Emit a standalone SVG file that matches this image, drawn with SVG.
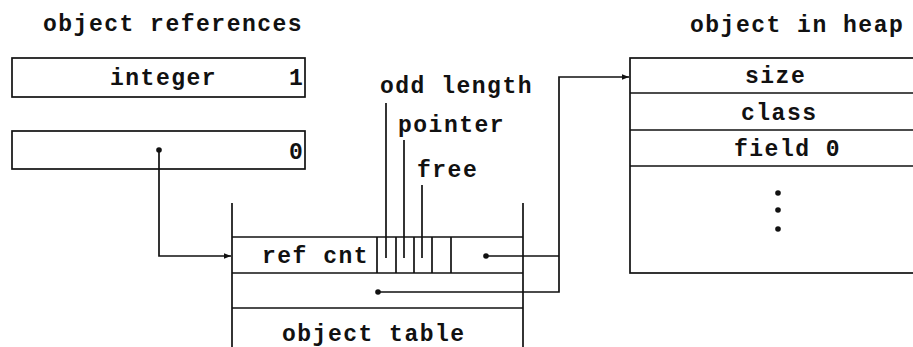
<svg xmlns="http://www.w3.org/2000/svg" width="913" height="347" viewBox="0 0 913 347">
<style>
text{font-family:"Liberation Mono","DejaVu Sans Mono",monospace;font-size:23px;font-weight:bold;letter-spacing:1.5px;fill:#111}
.b{fill:none;stroke:#111;stroke-width:1.7}
.c{fill:none;stroke:#111;stroke-width:1.7}
.d{fill:#111}
</style>
<defs>
<marker id="ah" viewBox="0 0 10 10" refX="10" refY="5" markerWidth="10" markerHeight="7" markerUnits="userSpaceOnUse" orient="auto">
<path d="M0,1 L10,5 L0,9 z" fill="#111"/>
</marker>
</defs>
<g id="title-refs"><text x="43" y="31">object references</text></g>
<g id="title-heap"><text x="690" y="32">object in heap</text></g>
<g id="ref-integer">
<rect class="b" x="12" y="58" width="293" height="39"/>
<text x="110" y="85">integer</text>
<text x="289" y="85">1</text>
</g>
<g id="ref-pointer">
<rect class="b" x="12" y="131" width="293" height="38"/>
<text x="289" y="159">0</text>
<circle class="d" cx="159" cy="150" r="2.8"/>
</g>
<g id="labels">
<text x="380" y="93">odd length</text>
<text x="398" y="132">pointer</text>
<text x="417" y="177">free</text>
</g>
<g id="object-table">
<line class="b" x1="232" y1="203" x2="232" y2="347"/>
<line class="b" x1="523" y1="203" x2="523" y2="347"/>
<line class="b" x1="232" y1="237" x2="523" y2="237"/>
<line class="b" x1="232" y1="273" x2="523" y2="273"/>
<line class="b" x1="232" y1="308" x2="523" y2="308"/>
<line class="b" x1="377" y1="237" x2="377" y2="273"/>
<line class="b" x1="396" y1="237" x2="396" y2="273"/>
<line class="b" x1="414" y1="237" x2="414" y2="273"/>
<line class="b" x1="432" y1="237" x2="432" y2="273"/>
<line class="b" x1="451" y1="237" x2="451" y2="273"/>
<line class="b" x1="386" y1="103" x2="386" y2="258"/>
<line class="b" x1="404" y1="140" x2="404" y2="258"/>
<line class="b" x1="422" y1="185" x2="422" y2="258"/>
<text x="262" y="263">ref cnt</text>
<text x="282" y="341">object table</text>
<circle class="d" cx="486" cy="256" r="2.8"/>
<circle class="d" cx="378" cy="292" r="2.8"/>
</g>
<g id="heap-object">
<rect class="b" x="630" y="58" width="290" height="215"/>
<line class="b" x1="630" y1="93" x2="913" y2="93"/>
<line class="b" x1="630" y1="130" x2="913" y2="130"/>
<line class="b" x1="630" y1="166" x2="913" y2="166"/>
<text x="745" y="83">size</text>
<text x="741" y="120">class</text>
<text x="734" y="156">field 0</text>
<circle class="d" cx="778" cy="193" r="2.8"/>
<circle class="d" cx="778" cy="210" r="2.8"/>
<circle class="d" cx="778" cy="229" r="2.8"/>
</g>
<g id="connectors">
<polyline class="c" points="159,150 159,256 231,256" marker-end="url(#ah)"/>
<polyline class="c" points="486,256 559,256"/>
<polyline class="c" points="378,292 559,292 559,77 629,77" marker-end="url(#ah)"/>
</g>
</svg>
